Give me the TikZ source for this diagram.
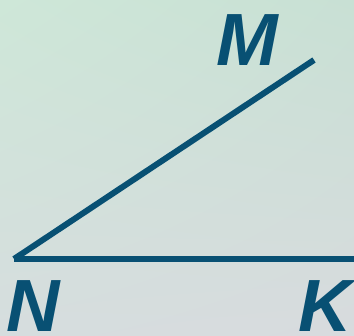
\documentclass[tikz,border=0pt]{standalone}
\usepackage{fontspec}
\setmainfont{Liberation Sans}
\usetikzlibrary{shadings}
\definecolor{rayblue}{RGB}{8,80,115}
\definecolor{bgtl}{RGB}{206,231,216}
\definecolor{bgtr}{RGB}{200,224,212}
\definecolor{bgbl}{RGB}{214,221,222}
\definecolor{bgbr}{RGB}{216,219,222}
\tikzset{
  ray/.style={rayblue, line width=6pt},
  pointlabel/.style={text=rayblue, font=\fontsize{74}{74}\selectfont\bfseries\itshape, inner sep=0pt, text depth=0pt, anchor=base west}
}
\begin{document}
\begin{tikzpicture}[x=1pt,y=-1pt]
\useasboundingbox (0,0) rectangle (354,336);
\clip (0,0) rectangle (354,336);
\shade[upper left=bgtl, upper right=bgtr, lower left=bgbl, lower right=bgbr] (0,0) rectangle (354,336);
% the angle
\coordinate (vN) at (14,259);
\coordinate (vM) at (314,60);
\coordinate (vK) at (356,259);
\draw[ray] (vN) -- (vM);
\draw[ray] (vN) -- (vK);
% letters
\node[pointlabel] (M) at (216,66) {M};
\node[pointlabel] (N) at (6,332) {N};
\node[pointlabel] (K) at (298,332) {K};
\end{tikzpicture}
\end{document}
